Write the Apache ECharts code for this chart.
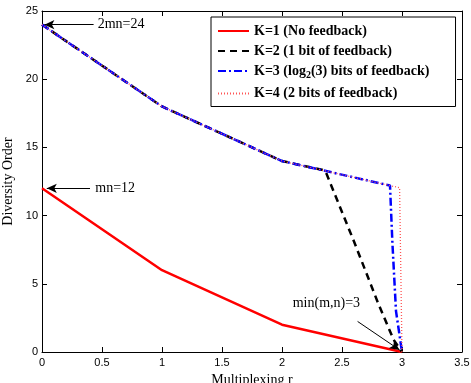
<!DOCTYPE html>
<html>
<head>
<meta charset="utf-8">
<script src="https://cdn.jsdelivr.net/npm/echarts@6/dist/echarts.min.js"></script>
<style>
  html, body { margin: 0; padding: 0; background: #fff; }
  #chart { width: 471px; height: 383px; }
</style>
</head>
<body>
<div id="chart"></div>
<script>
// series data: [r, diversity order]
const seriesNames = [
  "K=1 (No feedback)",
  "K=2 (1 bit of feedback)",
  "K=3 (log2(3) bits of feedback)",
  "K=4 (2 bits of feedback)"
];
const k1Data = [[0, 12], [1, 6], [2, 2], [3, 0]];
const k2Data = [[0, 24], [1, 18], [2, 14], [2.36, 13.3], [2.6, 8.1], [2.8, 3.6], [2.93, 0.9], [3, 0]];
const k3Data = [[0, 24], [1, 18], [2, 14], [2.9, 12.2], [2.92, 8], [2.95, 3], [3, 0]];
const k4Data = [[0, 24], [1, 18], [2, 14], [2.98, 12.04], [2.99, 6], [3, 0]];

const xTicks = [0, 0.5, 1, 1.5, 2, 2.5, 3, 3.5];
const yTicks = [0, 5, 10, 15, 20, 25];

// annotation arrows: [tail, head] and their labels
const arrows = [
  [[0.43, 24], [0.02, 24]],
  [[0.4, 12], [0.04, 12]],
  [[2.63, 2.24], [2.98, 0.15]]
];
const notes = [
  { text: "2mn=24", at: [0.46, 24], pos: "right" },
  { text: "mn=12", at: [0.44, 12], pos: "right" },
  { text: "min(m,n)=3", at: [2.37, 3.6], pos: "inside" }
];

const chart = echarts.init(document.getElementById("chart"), null, { renderer: "canvas" });

const serif = "'Liberation Serif', 'Times New Roman', serif";
const sans = "'Liberation Sans', Arial, sans-serif";

const baseAxis = {
  axisLine: { show: true, onZero: false, lineStyle: { color: "#000", width: 1 } },
  axisTick: { show: true, inside: true, length: 5, lineStyle: { color: "#000" } },
  splitLine: { show: false }
};

const option = {
  backgroundColor: "#fff",
  animation: false,
  grid: { left: 42, right: 9, top: 11, bottom: 31, containLabel: false, outerBoundsMode: "none" },
  legend: {
    data: seriesNames,
    orient: "vertical",
    left: 211,
    top: 17,
    padding: [7, 26, 6, 6],
    itemGap: 6,
    itemWidth: 31,
    itemHeight: 14,
    borderColor: "#000",
    borderWidth: 1,
    backgroundColor: "#fff",
    borderRadius: 0,
    itemStyle: { opacity: 0 },
    textStyle: {
      fontFamily: serif,
      fontWeight: "bold",
      fontSize: 14,
      color: "#000",
      rich: {
        sub: { fontFamily: serif, fontWeight: "bold", fontSize: 10, color: "#000", padding: [9, 0, 0, 0] }
      }
    },
    formatter: (name) => name.replace("log2", "log{sub|2}")
  },
  xAxis: [
    Object.assign({}, baseAxis, {
      type: "value", min: 0, max: 3.5, interval: 0.5,
      name: "Multiplexing r",
      nameLocation: "middle",
      nameGap: 19,
      nameTextStyle: { fontFamily: serif, fontSize: 14, color: "#000" },
      axisLabel: {
        color: "#000", fontFamily: sans, fontSize: 11, margin: 5,
        formatter: (v) => (xTicks.includes(v) ? String(v) : "")
      }
    }),
    Object.assign({}, baseAxis, {
      type: "value", min: 0, max: 3.5, interval: 0.5, position: "top",
      axisLabel: { show: false }
    })
  ],
  yAxis: [
    Object.assign({}, baseAxis, {
      type: "value", min: 0, max: 25, interval: 5,
      name: "Diversity Order",
      nameLocation: "middle",
      nameGap: 21,
      nameTextStyle: { fontFamily: serif, fontSize: 14, color: "#000" },
      axisLabel: {
        color: "#000", fontFamily: sans, fontSize: 11, margin: 4,
        formatter: (v) => (yTicks.includes(v) ? String(v) : "")
      }
    }),
    Object.assign({}, baseAxis, {
      type: "value", min: 0, max: 25, interval: 5, position: "right",
      axisLabel: { show: false }
    })
  ],
  series: [
    {
      name: seriesNames[0],
      type: "line",
      data: k1Data,
      symbol: "none",
      color: "#ff0000",
      lineStyle: { color: "#ff0000", width: 2.5, type: "solid" },
      z: 2,
      markLine: {
        silent: true,
        symbol: ["none", "arrow"],
        symbolSize: [7, 10],
        lineStyle: { color: "#000", width: 1, type: "solid" },
        label: { show: false },
        emphasis: { disabled: true },
        data: arrows.map(([a, b]) => [{ coord: a }, { coord: b }])
      },
      markPoint: {
        silent: true,
        symbol: "circle",
        symbolSize: 1,
        itemStyle: { color: "rgba(0,0,0,0)" },
        label: {
          show: true,
          color: "#000",
          fontFamily: serif,
          fontSize: 14,
          distance: 0,
          formatter: (p) => p.name
        },
        data: notes.map((n) => ({ name: n.text, coord: n.at, label: { position: n.pos } }))
      }
    },
    {
      name: seriesNames[1],
      type: "line",
      data: k2Data,
      symbol: "none",
      color: "#000",
      lineStyle: { color: "#000", width: 2.5, type: [7, 5] },
      z: 3
    },
    {
      name: seriesNames[2],
      type: "line",
      data: k3Data,
      symbol: "none",
      color: "#0000ff",
      lineStyle: { color: "#0000ff", width: 2.5, type: [8, 3, 2, 3] },
      z: 4
    },
    {
      name: seriesNames[3],
      type: "line",
      data: k4Data,
      symbol: "none",
      color: "#ff0000",
      lineStyle: { color: "#ff5555", width: 1.3, type: [1, 2] },
      z: 5
    }
  ]
};

chart.setOption(option);
</script>
</body>
</html>
